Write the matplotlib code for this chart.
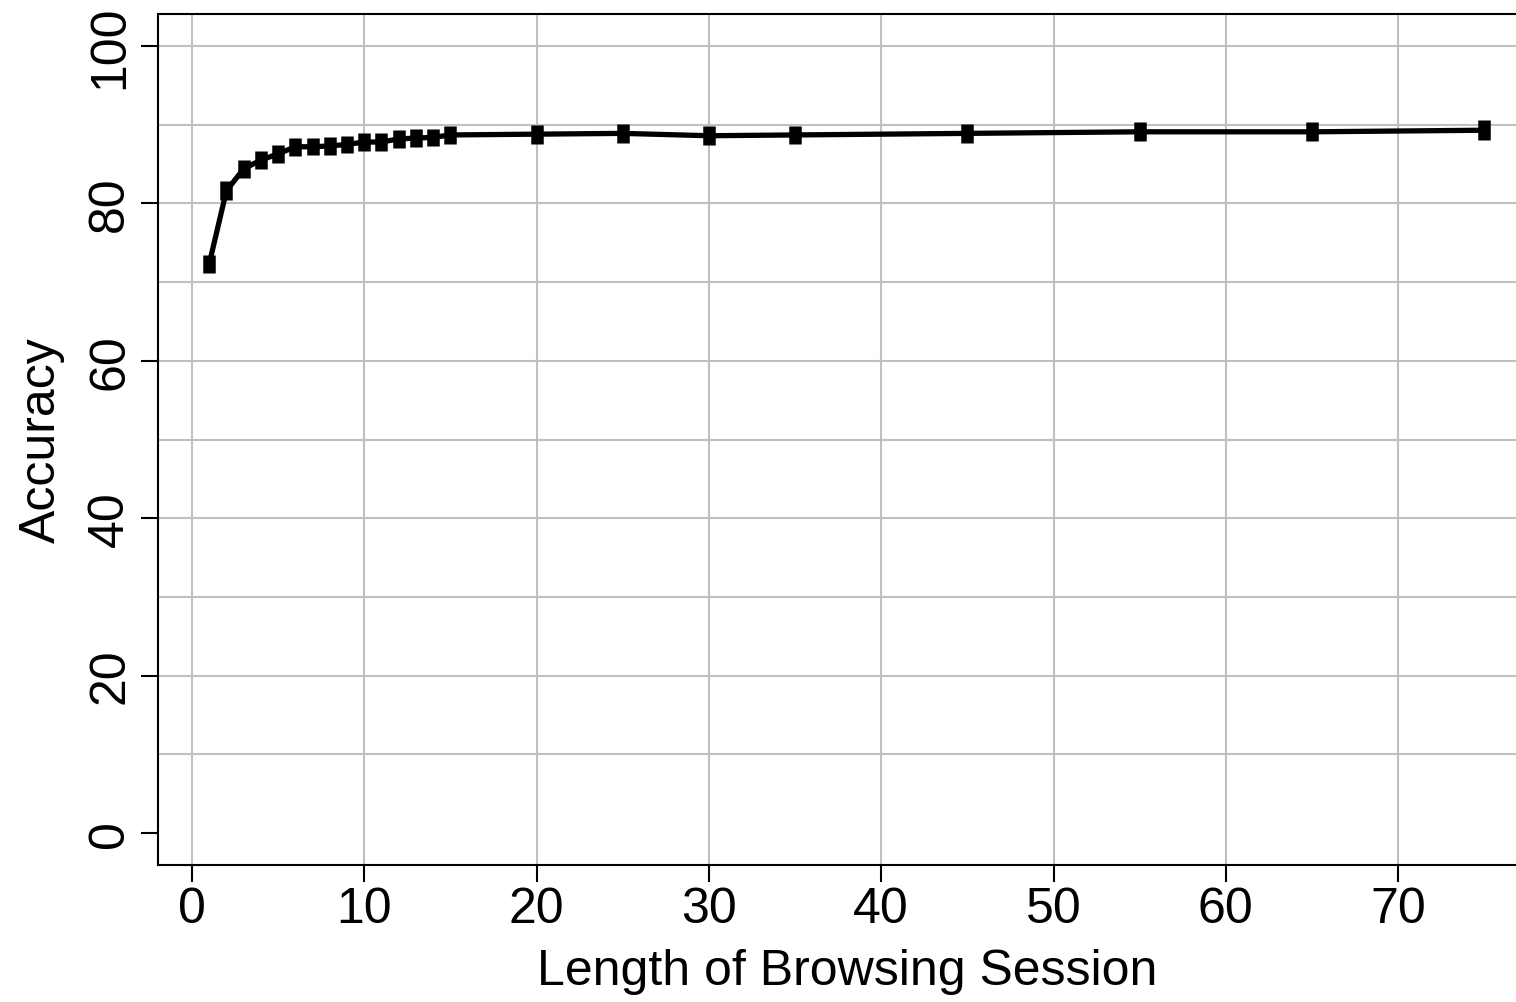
import matplotlib
matplotlib.use("Agg")
from matplotlib import pyplot as plt
from matplotlib.ticker import MultipleLocator

# session length vs. accuracy (mean with error bars)
session_len = [1, 2, 3, 4, 5, 6, 7, 8, 9, 10, 11, 12, 13, 14, 15, 20, 25, 30, 35, 45, 55, 65, 75]
accuracy = [72.3, 81.6, 84.4, 85.5, 86.3, 87.2, 87.2, 87.3, 87.5, 87.8, 87.8, 88.2, 88.3, 88.4, 88.7,
            88.8, 88.9, 88.6, 88.7, 88.9, 89.1, 89.1, 89.3]
acc_err = [1.2, 1.2, 1.15, 1.15, 1.15, 1.15, 1.1, 1.1, 1.1, 1.15, 1.1, 1.1, 1.1, 1.1, 1.1,
           1.2, 1.2, 1.2, 1.2, 1.2, 1.2, 1.2, 1.25]

plt.rcParams["font.family"] = ["Liberation Sans", "DejaVu Sans"]

fig = plt.figure(figsize=(15.16, 10.03), dpi=100)
ax = fig.add_axes([158 / 1516, 137 / 1003, 1378 / 1516, 851 / 1003])

ax.plot(session_len, accuracy, color="black", lw=3.8, zorder=3)
eb = ax.errorbar(session_len, accuracy, yerr=acc_err, fmt="none", ecolor="black",
                 elinewidth=9, capsize=0, zorder=4)
for coll in eb[2]:
    coll.set_capstyle("butt")
    coll.set_joinstyle("round")

ax.set_xlim(-1.97, 78)
ax.set_ylim(-4.07, 104.07)

ax.xaxis.set_major_locator(MultipleLocator(10))
ax.yaxis.set_major_locator(MultipleLocator(20))
ax.yaxis.set_minor_locator(MultipleLocator(10))

# grid on every 10, nothing at y = 0
for v in range(0, 80, 10):
    ax.axvline(v, color="#c0c0c0", lw=1.5, zorder=1)
for v in range(10, 110, 10):
    ax.axhline(v, color="#c0c0c0", lw=1.5, zorder=1)

ax.tick_params(axis="both", which="major", direction="out", length=12, width=1.5,
               labelsize=36, color="black")
ax.tick_params(axis="y", which="minor", length=0)
ax.tick_params(axis="x", pad=3)
ax.tick_params(axis="y", pad=6)
for lab in ax.get_yticklabels():
    lab.set_rotation(90)
    lab.set_va("center")

ax.spines["right"].set_visible(False)
for s in ["left", "bottom", "top"]:
    ax.spines[s].set_linewidth(1.5)

ax.set_xlabel("Length of Browsing Session", fontsize=36, labelpad=12)
ax.set_ylabel("Accuracy", fontsize=36, labelpad=16)

fig.savefig("out.png", dpi=100)
